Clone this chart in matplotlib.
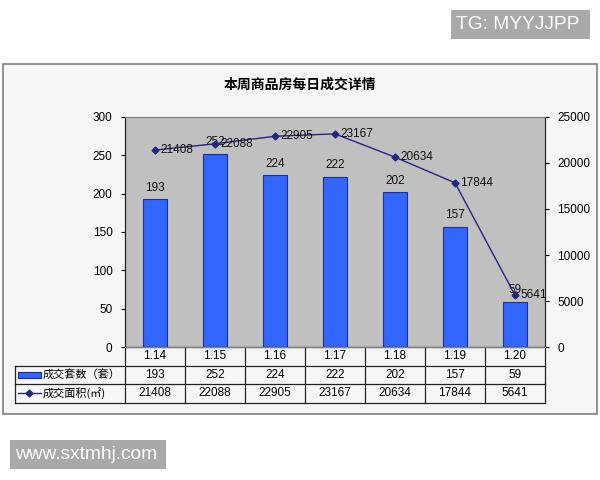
import matplotlib
matplotlib.use('Agg')
from matplotlib import pyplot as plt
from matplotlib.patches import Rectangle
from matplotlib.lines import Line2D

plt.rcParams['font.family'] = ['Liberation Sans', 'Noto Sans CJK SC', 'DejaVu Sans']

dates = ['1.14', '1.15', '1.16', '1.17', '1.18', '1.19', '1.20']
counts = [193, 252, 224, 222, 202, 157, 59]
areas = [21408, 22088, 22905, 23167, 20634, 17844, 5641]
count_name = '成交套数（套）'
area_name = '成交面积(㎡)'
title = '本周商品房每日成交详情'

bar_color = '#3366FF'
line_color = '#26267F'

fig = plt.figure(figsize=(6, 4.8), dpi=100)

def px_rect(x0, y0, x1, y1, **kw):
    # rectangle given in picture pixels from top-left
    return Rectangle((x0/600, 1-y1/480), (x1-x0)/600, (y1-y0)/480, transform=fig.transFigure, **kw)

# outer chart frame
fig.patches.append(px_rect(3, 64, 597, 414, facecolor='#F6F6F6', edgecolor='#7F7F7F', lw=1.2, zorder=-5))
fig.text(0.5, 1-85/480, title, ha='center', va='center', fontsize=10, fontweight='bold',
         family=['Noto Sans CJK SC', 'DejaVu Sans'])

ax = fig.add_axes([125/600, 1-347/480, 420/600, 230/480])
ax.set_facecolor('#C0C0C0')
x = list(range(len(dates)))
ax.bar(x, counts, width=0.4, color=bar_color, edgecolor='#1A2F99', lw=0.8, zorder=2)
for xi, v in zip(x, counts):
    ax.text(xi, v + 7, str(v), ha='center', va='bottom', fontsize=8.5, color='#111111')
ax.set_xlim(-0.5, len(dates) - 0.5)
ax.set_ylim(0, 300)
ax.set_yticks(range(0, 301, 50))
ax.set_xticks([])
ax.tick_params(axis='y', labelsize=8.5, length=3, direction='out', pad=6)

ax2 = ax.twinx()
ax2.plot(x, areas, color=line_color, marker='D', markersize=3.5, lw=1.0, zorder=3)
for xi, v in zip(x, areas):
    ax2.text(xi + 0.09, v, str(v), ha='left', va='center', fontsize=8.5, color='#111111')
ax2.set_ylim(0, 25000)
ax2.set_yticks(range(0, 25001, 5000))
ax2.tick_params(axis='y', labelsize=8.5, length=3, direction='out', pad=6)

for a in (ax, ax2):
    for s in a.spines.values():
        s.set_color('#808080')
        s.set_linewidth(0.8)
    a.spines['left'].set_color('#222222')
    a.spines['right'].set_color('#222222')

# data table under the plot
rh = 18.5/230
n = len(dates)
lx = -110/420
tc = '#222222'
kw = dict(transform=ax.transAxes, clip_on=False, color=tc, lw=0.9)
ax.add_line(Line2D([0, 1], [0, 0], **kw))
ax.add_line(Line2D([lx, 1], [-rh, -rh], **kw))
ax.add_line(Line2D([lx, 1], [-2*rh, -2*rh], **kw))
ax.add_line(Line2D([lx, 1], [-3*rh, -3*rh], **kw))
ax.add_line(Line2D([lx, lx], [-rh, -3*rh], **kw))
for i in range(n + 1):
    ax.add_line(Line2D([i/n, i/n], [0, -3*rh], **kw))
for i in range(n):
    cx = (i + 0.5)/n
    ax.text(cx, -0.5*rh, dates[i], transform=ax.transAxes, ha='center', va='center', fontsize=8.5)
    ax.text(cx, -1.5*rh, str(counts[i]), transform=ax.transAxes, ha='center', va='center', fontsize=8.5)
    ax.text(cx, -2.5*rh, str(areas[i]), transform=ax.transAxes, ha='center', va='center', fontsize=8.5)

# legend keys in the first column
ax.add_patch(Rectangle((lx + 3/420, -1.5*rh - 3/230), 23/420, 6/230, transform=ax.transAxes,
                       clip_on=False, facecolor=bar_color, edgecolor='#1A2F99', lw=0.8))
ax.add_line(Line2D([lx + 3/420, lx + 26/420], [-2.5*rh, -2.5*rh], transform=ax.transAxes,
                   clip_on=False, color=line_color, lw=1.0))
ax.add_line(Line2D([lx + 14.5/420], [-2.5*rh], transform=ax.transAxes, clip_on=False,
                   color=line_color, marker='D', markersize=3.5))
ax.text(lx + 28/420, -1.5*rh, count_name, transform=ax.transAxes, ha='left', va='center',
        fontsize=8, family=['Noto Sans CJK SC', 'DejaVu Sans'])
ax.text(lx + 28/420, -2.5*rh, area_name, transform=ax.transAxes, ha='left', va='center',
        fontsize=8, family=['Noto Sans CJK SC', 'DejaVu Sans'])

# watermark labels
fig.patches.append(px_rect(451, 10, 590, 39, facecolor='#A9A9A9', edgecolor='none'))
fig.text(456/600, 1-24.5/480, 'TG: MYYJJPP', ha='left', va='center', fontsize=13.8, color='white')
fig.patches.append(px_rect(10, 440, 166, 469, facecolor='#A9A9A9', edgecolor='none'))
fig.text(15/600, 1-454.5/480, 'www.sxtmhj.com', ha='left', va='center', fontsize=13.8, color='white')

fig.savefig('out.png', dpi=100)
